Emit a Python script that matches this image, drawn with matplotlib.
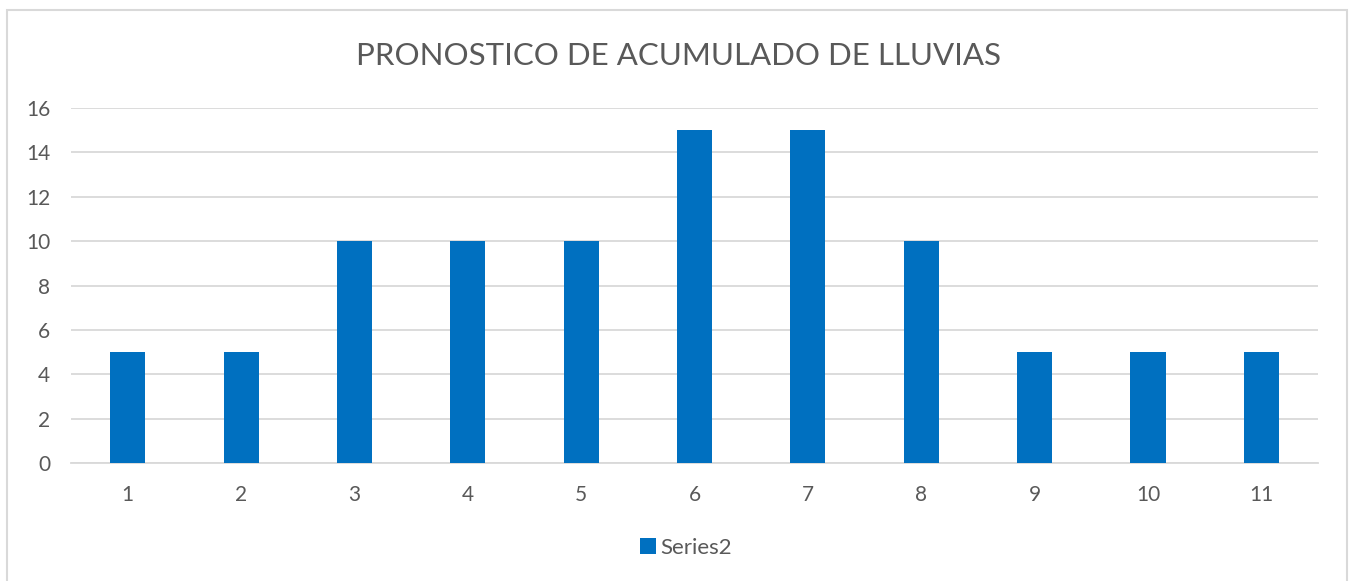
import matplotlib.pyplot as plt
from matplotlib.patches import Rectangle

# pronostico de lluvias por periodo
periodos = [1, 2, 3, 4, 5, 6, 7, 8, 9, 10, 11]
acumulado = [5, 5, 10, 10, 10, 15, 15, 10, 5, 5, 5]
marcas_y = [0, 2, 4, 6, 8, 10, 12, 14, 16]

azul = '#0070C0'
gris_texto = '#595959'
gris_rejilla = '#D9D9D9'

plt.rcParams['font.family'] = ['Lato', 'DejaVu Sans']

fig = plt.figure(figsize=(13.56, 5.81), dpi=100)
ax = fig.add_axes([0.0524, 0.2031, 0.9196, 0.611])

posiciones = range(len(periodos))
ax.bar(posiciones, acumulado, width=0.31, color=azul, label='Series2', zorder=3)

ax.set_xlim(-0.5, len(periodos) - 0.5)
ax.set_ylim(0, 16)
ax.set_xticks(list(posiciones))
ax.set_xticklabels([str(p) for p in periodos])
ax.set_yticks(marcas_y)
ax.grid(axis='y', color=gris_rejilla, linewidth=1.3, zorder=0)
for lado in ['top', 'right', 'left']:
    ax.spines[lado].set_visible(False)
ax.spines['bottom'].set_color(gris_rejilla)
ax.spines['bottom'].set_linewidth(1.3)
ax.tick_params(axis='both', length=0, labelsize=15, colors=gris_texto)
ax.tick_params(axis='x', pad=16)
ax.tick_params(axis='y', pad=15)

fig.text(0.5, 0.903, 'PRONOSTICO DE ACUMULADO DE LLUVIAS', ha='center', va='center',
         fontsize=22.5, color=gris_texto)

fig.legend(loc='center', bbox_to_anchor=(0.506, 0.057), frameon=False, fontsize=16,
           handlelength=0.7, handleheight=0.7, handletextpad=0.2, labelcolor=gris_texto)

# marco del grafico
fig.patches.append(Rectangle((7 / 1356, -0.05), 1340 / 1356, 1.05 - 10 / 581,
                             transform=fig.transFigure, fill=False,
                             edgecolor=gris_rejilla, linewidth=1.5))

fig.savefig('out.png', dpi=100)
